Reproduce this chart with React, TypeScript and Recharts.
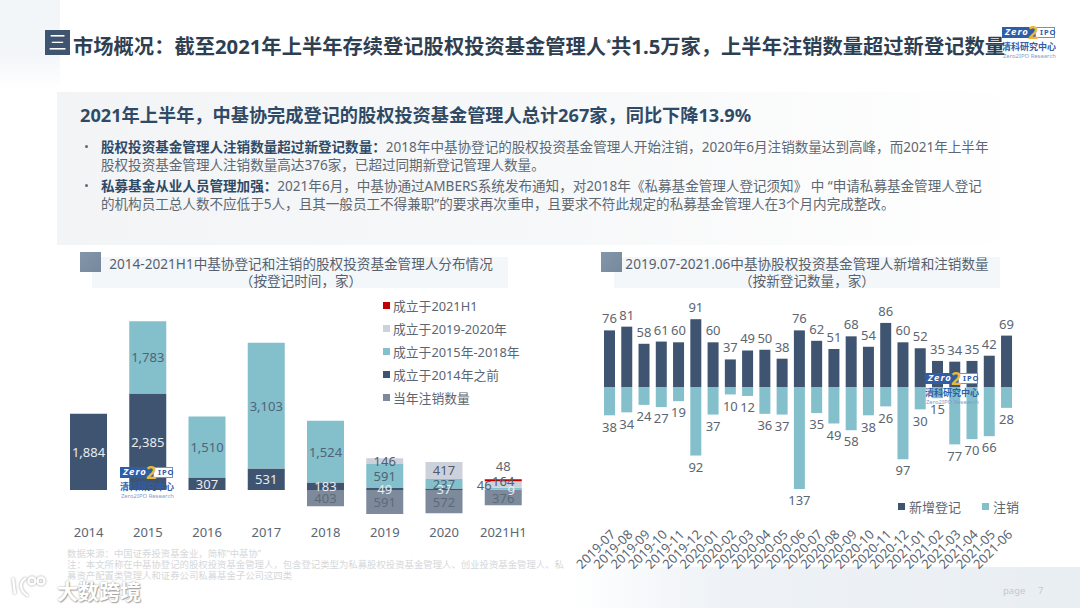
import React from 'react';
import {
  BarChart,
  Bar,
  XAxis,
  YAxis,
  LabelList,
  Legend,
} from 'recharts';

const FONT = '"Noto Sans", "Noto Sans CJK SC", sans-serif';

// left chart
const years = ['2014', '2015', '2016', '2017', '2018', '2019', '2020', '2021H1'];
const cancelled = [null, null, null, null, 403, 591, 572, 376];
const before2014 = [1884, 2385, 307, 531, 183, 49, 37, 9];
const from2015 = [null, 1783, 1510, 3103, 1524, 591, 237, 46];
const from2019 = [null, null, null, null, null, 146, 417, 164];
const in2021 = [null, null, null, null, null, null, null, 48];

// right chart
const months = [
  '2019-07', '2019-08', '2019-09', '2019-10', '2019-11', '2019-12',
  '2020-01', '2020-02', '2020-03', '2020-04', '2020-05', '2020-06',
  '2020-07', '2020-08', '2020-09', '2020-10', '2020-11', '2020-12',
  '2021-01', '2021-02', '2021-03', '2021-04', '2021-05', '2021-06',
];
const newlyAdded = [76, 81, 58, 61, 60, 91, 60, 37, 49, 50, 38, 76, 62, 51, 68, 54, 86, 60, 52, 35, 34, 35, 42, 69];
const deregistered = [38, 34, 24, 27, 19, 92, 37, 10, 12, 36, 37, 137, 35, 49, 58, 38, 26, 97, 30, 15, 77, 70, 66, 28];

const NAVY = '#3f5470';
const TEAL = '#84bfcc';
const SLATE = '#7c8a9c';
const LIGHT = '#cdd1dc';
const RED = '#c00000';

const leftData = years.map((year, i) => ({
  year,
  cancelled: cancelled[i] == null ? null : -(cancelled[i] as number),
  before2014: before2014[i],
  from2015: from2015[i],
  from2019: from2019[i],
  in2021: in2021[i],
}));

const rightData = months.map((month, i) => ({
  month,
  added: newlyAdded[i],
  removed: -deregistered[i],
}));

// the 2021H1 stack is too thin for its labels, so they were moved off it
const nudgeFor = (series: (number | null)[], value: number, shift: [number, number]) =>
  value === series[series.length - 1] ? shift : [0, 0];

const stackLabel = (color: string, series?: (number | null)[], shift?: [number, number]) => (props: any) => {
  const { x, y, width, height, value } = props;
  if (value == null) return null;
  const [dx, dy] = series && shift ? nudgeFor(series, value, shift) : [0, 0];
  return (
    <text
      x={x + width / 2 + dx}
      y={y + height / 2 + dy}
      fill={color}
      fontSize={13}
      fontFamily={FONT}
      textAnchor="middle"
      dominantBaseline="central"
    >
      {Math.abs(value).toLocaleString('en-US')}
    </text>
  );
};

const LeftLegend = ({ payload }: any) => (
  <div>
    {[...(payload || [])].reverse().map((p: any) => (
      <div key={p.value} style={{ display: 'flex', alignItems: 'center', height: 23, fontSize: 12.8, color: '#5b6672', fontFamily: FONT, whiteSpace: 'nowrap' }}>
        <span style={{ width: 7, height: 7, background: p.color, marginRight: 3 }} />
        {p.value}
      </div>
    ))}
  </div>
);

const RightLegend = ({ payload }: any) => (
  <div style={{ display: 'flex' }}>
    {(payload || []).map((p: any) => (
      <div key={p.value} style={{ display: 'flex', alignItems: 'center', width: 84, fontSize: 13, color: '#5b6672', fontFamily: FONT, whiteSpace: 'nowrap' }}>
        <span style={{ width: 7, height: 7, background: p.color, marginRight: 4 }} />
        {p.value}
      </div>
    ))}
  </div>
);

const Abs = { position: 'absolute' } as const;

const Logo = ({ left, top }: { left: number; top: number }) => (
  <div style={{ ...Abs, left, top, width: 54, height: 34, fontFamily: FONT }}>
    <div style={{ ...Abs, left: 0, top: 0, width: 33, height: 11, background: '#2f5da8' }} />
    <div style={{ ...Abs, left: 33, top: 0, width: 20, height: 11, background: '#fff', border: '1px solid #6f93c8', boxSizing: 'border-box' }} />
    <div style={{ ...Abs, left: 3, top: -2, lineHeight: '14px', fontSize: 9.5, fontWeight: 700, fontStyle: 'italic', color: '#fff', letterSpacing: 1 }}>Zero</div>
    <div style={{ ...Abs, left: 26, top: -5, lineHeight: '20px', fontSize: 18, fontWeight: 700, color: '#e9b93a' }}>2</div>
    <div style={{ ...Abs, left: 38, top: -1, lineHeight: '13px', fontSize: 7.5, fontWeight: 700, color: '#2f5da8', letterSpacing: 1 }}>IPO</div>
    <div style={{ ...Abs, left: 0, top: 14, lineHeight: '12px', fontSize: 9, fontWeight: 700, color: '#2f5da8', whiteSpace: 'nowrap' }}>清科研究中心</div>
    <div style={{ ...Abs, left: 1, top: 25, lineHeight: '9px', fontSize: 5.9, color: '#7f9cc8', whiteSpace: 'nowrap' }}>Zero2IPO Research</div>
  </div>
);

const ChartTitle = ({ barX, barW, squareX, lines, center }: any) => (
  <>
    <div style={{ ...Abs, left: barX, top: 257, width: barW, height: 31, background: '#f4f7fa' }} />
    <div style={{ ...Abs, left: squareX, top: 252, width: 21, height: 20, background: 'linear-gradient(135deg,#8496a9,#76889c)' }} />
    {lines.map((line: string, i: number) => (
      <div key={line} style={{ ...Abs, left: center - 250, width: 500, top: 255 + i * 17, height: 18, lineHeight: '18px', textAlign: 'center', fontSize: 13.6, color: '#56616d', fontFamily: FONT, whiteSpace: 'nowrap' }}>
        {line}
      </div>
    ))}
  </>
);

const bodyLine = (top: number, children: React.ReactNode) => (
  <div style={{ ...Abs, left: 101, top, height: 18, lineHeight: '18px', fontSize: 13.57, color: '#5d6873', whiteSpace: 'nowrap', fontFamily: FONT }}>
    {children}
  </div>
);

const strong = { fontWeight: 700, color: '#2f4a66' };

export default function App() {
  return (
    <div style={{ ...Abs, left: 0, top: 0, width: 1080, height: 608, overflow: 'hidden', background: '#fff', fontFamily: FONT }}>
      {/* slide background */}
      <div style={{ ...Abs, left: 0, top: 0, width: 60, height: 90, background: 'linear-gradient(180deg,#f3f6f9 60%,#fff)' }} />
      <div style={{ ...Abs, left: 57, top: 92, width: 1023, height: 153, background: 'linear-gradient(90deg,#f3f4f6,#f7f8f9 50%,#fff 95%)' }} />
      <div style={{ ...Abs, left: 570, top: 567, width: 510, height: 41, background: 'linear-gradient(90deg,#fff,#eef2f6 30%,#e9eef3)' }} />

      {/* header */}
      <div style={{ ...Abs, left: 45, top: 30, width: 25, height: 25, background: '#3f5470', color: '#fff', fontSize: 18, lineHeight: '24px', textAlign: 'center' }}>三</div>
      <Logo left={1002} top={27} />
      <div style={{ ...Abs, left: 73, top: 30, height: 32, lineHeight: '32px', fontSize: 20.3, fontWeight: 700, color: '#2f3f52', whiteSpace: 'nowrap' }}>
        市场概况：截至2021年上半年存续登记股权投资基金管理人<sup style={{ fontSize: 9, lineHeight: 0 }}>*</sup>共1.5万家，上半年注销数量超过新登记数量
      </div>

      <div style={{ ...Abs, left: 80, top: 102, height: 26, lineHeight: '26px', fontSize: 18.2, fontWeight: 700, color: '#2f4a66', whiteSpace: 'nowrap' }}>
        2021年上半年，中基协完成登记的股权投资基金管理人总计267家，同比下降13.9%
      </div>
      <div style={{ ...Abs, left: 85, top: 145, width: 3, height: 3, borderRadius: 2, background: '#5d6873' }} />
      <div style={{ ...Abs, left: 85, top: 184, width: 3, height: 3, borderRadius: 2, background: '#5d6873' }} />
      {bodyLine(138, <><span style={strong}>股权投资基金管理人注销数量超过新登记数量：</span>2018年中基协登记的股权投资基金管理人开始注销，2020年6月注销数量达到高峰，而2021年上半年</>)}
      {bodyLine(156, '股权投资基金管理人注销数量高达376家，已超过同期新登记管理人数量。')}
      {bodyLine(177, <><span style={strong}>私募基金从业人员管理加强：</span>2021年6月，中基协通过AMBERS系统发布通知，对2018年《私募基金管理人登记须知》 中 “申请私募基金管理人登记</>)}
      {bodyLine(195, '的机构员工总人数不应低于5人，且其一般员工不得兼职”的要求再次重申，且要求不符此规定的私募基金管理人在3个月内完成整改。')}

      <ChartTitle barX={92} barW={416} squareX={80} center={301} lines={['2014-2021H1中基协登记和注销的股权投资基金管理人分布情况', '（按登记时间，家）']} />
      <ChartTitle barX={614} barW={386} squareX={601} center={807} lines={['2019.07-2021.06中基协股权投资基金管理人新增和注销数量', '（按新登记数量，家）']} />

      {/* left chart */}
      <div style={{ ...Abs, left: 40, top: 290 }}>
        <BarChart
          width={530}
          height={270}
          data={leftData}
          stackOffset="sign"
          barSize={37}
          margin={{ top: 21.8, right: 37, bottom: 7.6, left: 19 }}
        >
          <XAxis dataKey="year" axisLine={false} tickLine={false} height={30} tickMargin={0} interval={0} tick={{ fill: '#5b6672', fontSize: 13, fontFamily: FONT, dy: -1 }} />
          <YAxis hide domain={[-800, 4400]} />
          {/* vertical + center + middle keeps the legend from shrinking the plot */}
          <Legend
            layout="vertical"
            verticalAlign="middle"
            align="center"
            content={<LeftLegend />}
            wrapperStyle={{ left: 343, top: 4, width: 150 }}
          />
          <Bar dataKey="cancelled" name="当年注销数量" stackId="a" fill={SLATE} isAnimationActive={false}>
            <LabelList dataKey="cancelled" content={stackLabel('#5e6a78')} />
          </Bar>
          <Bar dataKey="before2014" name="成立于2014年之前" stackId="a" fill={NAVY} isAnimationActive={false}>
            <LabelList dataKey="before2014" content={stackLabel('#e8ecf1', before2014, [8, 0])} />
          </Bar>
          <Bar dataKey="from2015" name="成立于2015年-2018年" stackId="a" fill={TEAL} isAnimationActive={false}>
            <LabelList dataKey="from2015" content={stackLabel('#4f6475', from2015, [-19, -4])} />
          </Bar>
          <Bar dataKey="from2019" name="成立于2019-2020年" stackId="a" fill={LIGHT} isAnimationActive={false}>
            <LabelList dataKey="from2019" content={stackLabel('#4f5c6b', from2019, [0, -3])} />
          </Bar>
          <Bar dataKey="in2021" name="成立于2021H1" stackId="a" fill={RED} isAnimationActive={false}>
            <LabelList dataKey="in2021" content={stackLabel('#5b6672', in2021, [0, -14])} />
          </Bar>
        </BarChart>
      </div>

      {/* right chart */}
      <div style={{ ...Abs, left: 560, top: 290 }}>
        <BarChart
          width={520}
          height={290}
          data={rightData}
          stackOffset="sign"
          barSize={11}
          margin={{ top: 22.5, right: 64.7, bottom: 1.25, left: 41 }}
        >
          <XAxis dataKey="month" axisLine={false} tickLine={false} height={80} interval={0} angle={-45} textAnchor="end" tickMargin={24} tick={{ fill: '#5b6672', fontSize: 13, fontFamily: FONT }} />
          <YAxis hide domain={[-150, 100]} />
          <Legend
            layout="vertical"
            verticalAlign="middle"
            align="center"
            content={<RightLegend />}
            wrapperStyle={{ left: 338, top: 207, width: 180 }}
          />
          <Bar dataKey="added" name="新增登记" stackId="a" fill={NAVY} isAnimationActive={false}>
            <LabelList dataKey="added" position="top" offset={7} fill="#5b6672" fontSize={13} fontFamily={FONT} />
          </Bar>
          <Bar dataKey="removed" name="注销" stackId="a" fill={TEAL} isAnimationActive={false}>
            <LabelList dataKey="removed" position="top" offset={7} fill="#5b6672" fontSize={13} fontFamily={FONT} formatter={(v: any) => Math.abs(v)} />
          </Bar>
        </BarChart>
      </div>

      <Logo left={120} top={467} />
      <Logo left={925} top={373} />

      {/* footnote */}
      <div style={{ ...Abs, left: 67, top: 548, fontSize: 9.4, lineHeight: '11px', color: '#d5d8db', whiteSpace: 'nowrap' }}>
        <div>数据来源：中国证券投资基金业，简称“中基协”</div>
        <div>注：本文所称在中基协登记的股权投资基金管理人，包含登记类型为私募股权投资基金管理人、创业投资基金管理人、私</div>
        <div>募资产配置类管理人和证券公司私募基金子公司这四类</div>
      </div>

      <div style={{ ...Abs, left: 1003, top: 584, fontSize: 9.5, color: '#c3c8ce', whiteSpace: 'nowrap' }}>page</div>
      <div style={{ ...Abs, left: 1038, top: 584, fontSize: 9.5, color: '#c3c8ce' }}>7</div>

      {/* watermark */}
      <svg style={{ ...Abs, left: 10, top: 574 }} width="44" height="28" viewBox="0 0 44 28" fill="none" stroke="#fff" strokeWidth="2.4" filter="drop-shadow(0 0 1px #999)">
        <path d="M3 4 L5 20" />
        <path d="M16 4 C9 8 9 16 18 22" />
        <circle cx="22" cy="7" r="3.5" />
        <circle cx="31" cy="7" r="3.5" />
      </svg>
      <div style={{ ...Abs, left: 57, top: 577, lineHeight: '28px', fontSize: 21, fontWeight: 700, color: '#fff', textShadow: '0 0 2px #999, 1px 1px 1px #aaa', whiteSpace: 'nowrap' }}>大数跨境</div>
    </div>
  );
}
